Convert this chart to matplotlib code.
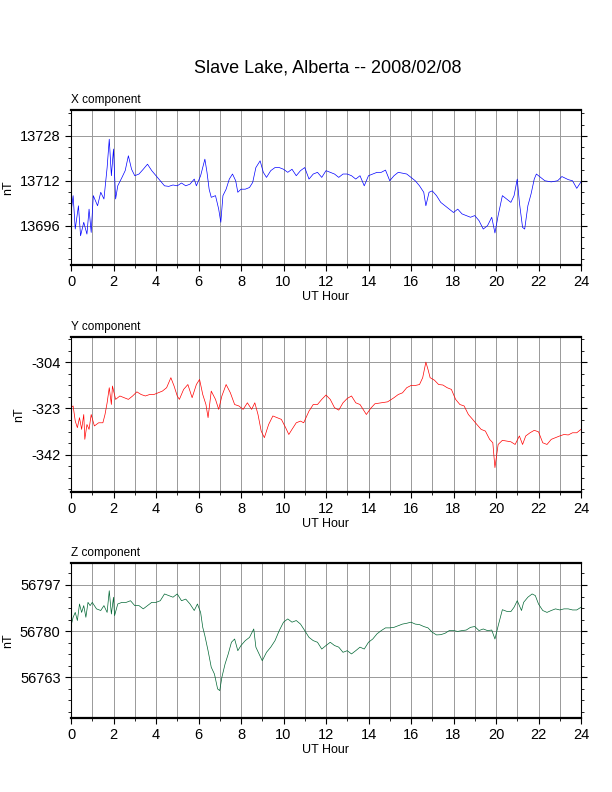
import matplotlib
matplotlib.use("Agg")
import matplotlib.pyplot as plt
from matplotlib.ticker import MultipleLocator

plt.rcParams['font.family'] = ['Liberation Sans', 'DejaVu Sans']
plt.rcParams['axes.unicode_minus'] = False

x_hours = [0,0.1,0.2,0.35,0.45,0.6,0.75,0.85,0.95,1.05,1.25,1.4,1.55,1.7,1.8,1.9,2.0,2.1,2.2,2.4,2.55,2.7,2.85,3.0,3.2,3.4,3.6,3.8,4.0,4.2,4.4,4.6,4.8,5.0,5.2,5.4,5.6,5.8,5.9,6.1,6.3,6.4,6.5,6.6,6.8,6.95,7.05,7.15,7.3,7.45,7.6,7.75,7.85,8.0,8.2,8.4,8.55,8.7,8.9,9.05,9.2,9.4,9.6,9.8,10.0,10.2,10.4,10.6,10.8,11.0,11.2,11.4,11.6,11.8,12.0,12.2,12.4,12.6,12.8,13.0,13.2,13.4,13.6,13.8,14.0,14.2,14.4,14.6,14.8,15.0,15.2,15.4,15.6,15.8,16.0,16.2,16.4,16.6,16.7,16.85,17.0,17.2,17.4,17.6,17.8,18.0,18.2,18.4,18.6,18.8,19.0,19.2,19.4,19.6,19.8,19.95,20.1,20.3,20.5,20.7,20.85,21.0,21.1,21.25,21.35,21.5,21.65,21.8,21.9,22.1,22.3,22.6,22.9,23.1,23.4,23.6,23.8,24.0]
x_vals = [13700.7,13706.7,13694.8,13703.1,13692.4,13697.2,13693.0,13701.9,13693.6,13706.7,13703.1,13707.9,13705.5,13716.7,13726.8,13713.8,13723.3,13705.5,13710.2,13713.2,13715.6,13720.9,13716.1,13713.8,13714.4,13716.1,13717.9,13715.6,13713.8,13712.0,13710.2,13710.0,13710.5,13710.2,13711.2,13710.2,13710.8,13712.6,13710.2,13713.8,13719.7,13715.0,13709.0,13706.1,13706.7,13701.9,13697.2,13706.7,13709.0,13712.6,13714.4,13712.0,13707.9,13709.0,13709.0,13709.6,13711.4,13716.7,13719.1,13715.0,13713.2,13715.6,13716.7,13716.7,13716.1,13715.0,13716.1,13713.8,13715.6,13716.7,13712.6,13714.4,13715.0,13713.2,13715.6,13715.0,13714.4,13713.2,13714.4,13714.4,13713.8,13712.6,13713.8,13710.2,13713.8,13714.4,13715.0,13715.0,13715.8,13712.0,13713.8,13715.0,13714.7,13714.4,13713.2,13712.0,13710.2,13707.9,13703.1,13707.9,13708.4,13706.7,13704.3,13703.1,13701.9,13700.7,13701.9,13700.2,13699.6,13699.0,13699.6,13697.8,13694.8,13696.0,13699.0,13693.4,13699.6,13706.7,13705.5,13704.3,13706.7,13712.6,13704.3,13695.4,13694.8,13703.1,13707.3,13712.6,13714.4,13713.2,13712.0,13711.6,13712.0,13713.5,13712.4,13712.0,13709.3,13711.6]

y_hours = [0,0.1,0.2,0.3,0.4,0.5,0.6,0.65,0.75,0.85,0.95,1.1,1.3,1.5,1.6,1.7,1.8,1.9,1.95,2.1,2.3,2.5,2.7,2.9,3.1,3.3,3.5,3.7,3.9,4.1,4.3,4.5,4.7,4.85,5.0,5.1,5.3,5.5,5.7,5.9,6.05,6.2,6.35,6.45,6.6,6.8,6.95,7.1,7.3,7.5,7.7,7.9,8.1,8.3,8.5,8.65,8.8,8.95,9.1,9.3,9.5,9.7,9.9,10.1,10.25,10.4,10.6,10.8,10.95,11.2,11.4,11.6,11.8,12.0,12.2,12.4,12.6,12.8,13.0,13.2,13.4,13.6,13.8,13.9,14.1,14.3,14.6,14.9,15.2,15.4,15.6,15.8,16.0,16.2,16.4,16.55,16.7,16.8,16.9,17.1,17.3,17.5,17.7,17.9,18.1,18.3,18.5,18.7,18.9,19.1,19.3,19.5,19.7,19.85,19.95,20.1,20.3,20.5,20.7,20.9,21.1,21.25,21.4,21.6,21.8,22.0,22.2,22.4,22.6,22.8,23.0,23.2,23.4,23.6,23.8,24.0]
y_vals = [-322.7,-322.0,-328.2,-330.9,-326.8,-331.6,-325.5,-335.7,-329.6,-331.6,-325.5,-330.2,-328.9,-328.9,-325.5,-320.7,-314.5,-321.4,-313.8,-319.3,-317.9,-318.6,-319.3,-317.9,-316.2,-317.3,-317.9,-317.3,-317.3,-316.6,-315.9,-314.5,-310.4,-313.8,-317.9,-319.3,-315.2,-313.2,-318.6,-313.2,-311.1,-317.3,-321.4,-326.8,-315.9,-319.3,-323.4,-317.9,-313.2,-316.6,-321.4,-322.0,-323.4,-320.7,-323.4,-320.7,-325.5,-332.3,-335.0,-329.6,-326.1,-326.8,-327.5,-330.9,-333.7,-331.6,-328.9,-328.2,-328.9,-324.1,-321.4,-321.4,-319.3,-317.5,-319.3,-322.7,-323.7,-320.7,-318.9,-317.9,-320.7,-321.4,-324.1,-325.5,-323.0,-321.1,-320.7,-320.3,-318.6,-317.3,-316.6,-314.5,-313.6,-313.6,-313.2,-310.4,-304.0,-307.0,-310.4,-311.4,-313.2,-313.4,-314.5,-315.2,-319.3,-321.4,-322.0,-325.5,-327.5,-329.6,-331.6,-332.3,-335.7,-337.1,-347.3,-337.8,-336.1,-336.4,-336.7,-337.8,-334.3,-337.8,-334.3,-333.0,-332.0,-332.6,-337.1,-337.8,-335.7,-335.0,-334.3,-333.7,-333.9,-333.0,-333.0,-331.6]

z_hours = [0,0.1,0.2,0.3,0.4,0.5,0.6,0.7,0.8,0.9,1.0,1.2,1.4,1.55,1.7,1.8,1.9,2.0,2.05,2.2,2.4,2.6,2.8,3.0,3.2,3.4,3.6,3.8,4.0,4.2,4.4,4.6,4.8,5.0,5.2,5.4,5.6,5.8,5.95,6.1,6.2,6.3,6.45,6.6,6.75,6.9,7.0,7.1,7.25,7.4,7.55,7.7,7.85,8.0,8.2,8.4,8.6,8.7,8.85,9.0,9.2,9.4,9.6,9.8,10.0,10.2,10.4,10.6,10.8,11.0,11.2,11.4,11.6,11.8,12.0,12.2,12.4,12.6,12.8,13.0,13.2,13.4,13.6,13.8,14.0,14.2,14.4,14.6,14.8,15.0,15.2,15.4,15.6,15.8,16.0,16.2,16.4,16.6,16.8,17.0,17.2,17.4,17.6,17.8,18.0,18.2,18.4,18.6,18.8,19.0,19.2,19.4,19.6,19.8,19.95,20.1,20.3,20.5,20.7,20.85,21.0,21.1,21.2,21.3,21.5,21.7,21.85,22.0,22.2,22.4,22.6,22.8,23.0,23.2,23.4,23.6,23.8,24.0]
z_vals = [56782.0,56785.1,56786.9,56783.9,56790.0,56786.9,56789.4,56785.1,56790.6,56789.4,56790.6,56788.2,56787.6,56789.4,56786.9,56794.9,56786.3,56792.5,56785.7,56790.0,56790.6,56790.6,56791.2,56789.4,56789.4,56788.2,56789.4,56790.6,56790.6,56791.2,56793.7,56793.1,56792.5,56793.7,56791.2,56791.8,56790.0,56787.6,56790.0,56786.9,56781.4,56778.3,56772.8,56766.7,56764.2,56758.7,56758.1,56763.0,56767.9,56771.6,56775.9,56777.1,56772.8,56774.7,56776.5,56777.7,56780.8,56774.1,56771.6,56769.1,56772.2,56774.1,56776.5,56780.2,56783.3,56784.5,56783.3,56783.9,56782.6,56780.2,56777.7,56776.5,56775.9,56773.4,56774.7,56775.9,56774.7,56774.1,56772.2,56772.8,56771.6,56772.8,56774.1,56773.4,56775.9,56777.1,56779.0,56780.2,56781.2,56781.2,56781.4,56782.0,56782.6,56782.9,56783.3,56782.6,56782.4,56781.7,56781.2,56779.6,56778.6,56778.7,56779.2,56780.2,56780.2,56779.9,56780.2,56780.4,56781.4,56781.7,56780.2,56780.8,56780.2,56780.4,56777.1,56781.9,56787.9,56787.3,56787.2,56788.8,56791.2,56789.4,56787.6,56790.6,56792.5,56793.7,56793.1,56790.0,56787.6,56786.9,56787.6,56788.2,56787.8,56788.2,56788.2,56787.8,56787.8,56788.8]

panels = [
    ("X component", x_hours, x_vals, "#0000ff", (13682.0, 13737.2), [13696, 13712, 13728], 4),
    ("Y component", y_hours, y_vals, "#ff0000", (-357.3, -293.7), [-342, -323, -304], 4.75),
    ("Z component", z_hours, z_vals, "#006633", (56748.0, 56805.1), [56763, 56780, 56797], 4.25),
]

fig = plt.figure(figsize=(6.12, 7.92), dpi=100)
fig.text(0.535, 1 - 68/792, "Slave Lake, Alberta -- 2008/02/08", ha="center", va="center", fontsize=13)
tops = [110, 337, 563]
for (label, hrs, vals, col, ylim, yt, minor), top in zip(panels, tops):
    ax = fig.add_axes([71/612, 1 - (top + 155)/792, 510/612, 155/792])
    ax.plot(hrs, vals, color=col, lw=0.5)
    ax.set_xlim(0, 24)
    ax.set_ylim(*ylim)
    ax.set_xticks(range(0, 25, 2))
    ax.xaxis.set_minor_locator(MultipleLocator(1))
    ax.set_yticks(yt)
    ax.yaxis.set_minor_locator(MultipleLocator(minor))
    ax.grid(True, which="major", color="#999999", lw=0.7)
    ax.grid(True, which="minor", axis="x", color="#999999", lw=0.7)
    ax.tick_params(which="both", direction="out", right=True, top=False, labelsize=10.5)
    ax.tick_params(which="major", length=4)
    ax.tick_params(which="minor", length=2)
    for s in ["top", "bottom"]:
        ax.spines[s].set_linewidth(1.6)
    for s in ["left", "right"]:
        ax.spines[s].set_linewidth(0.8)
    ax.set_xlabel("UT Hour", fontsize=9, labelpad=1)
    ax.set_ylabel("nT", fontsize=9)
    ax.text(0, 1.025, label, transform=ax.transAxes, fontsize=8.5, ha="left", va="bottom")

fig.savefig("out.png", dpi=100)
